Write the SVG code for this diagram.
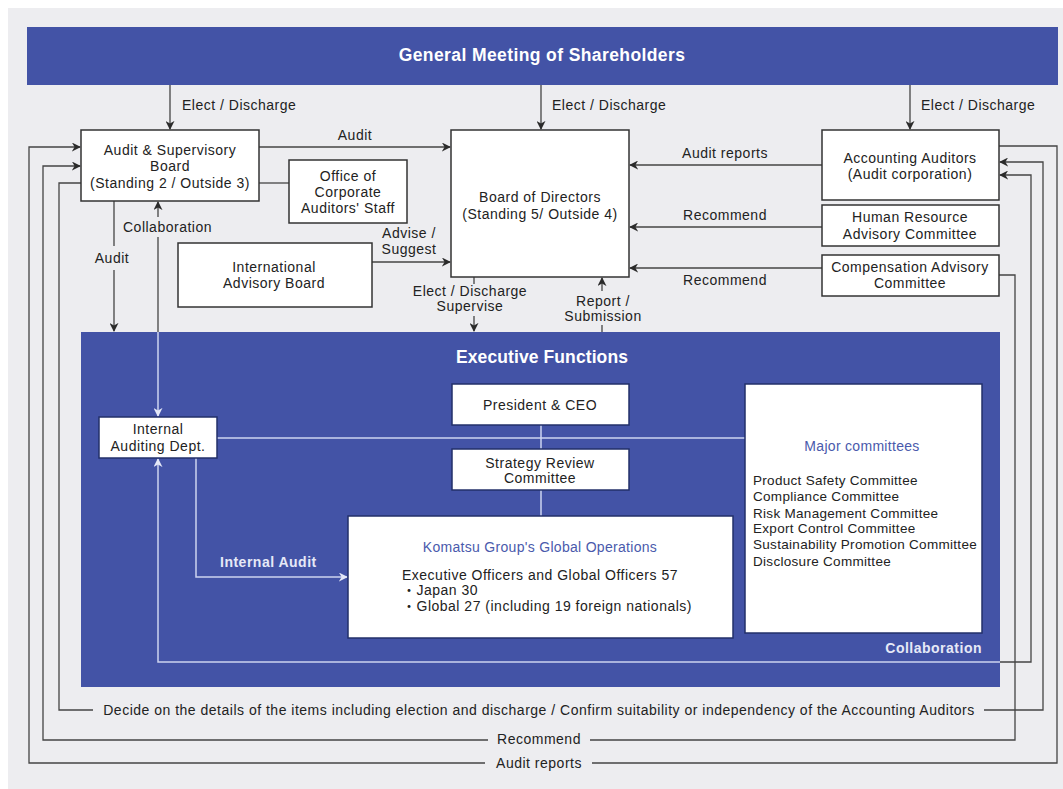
<svg xmlns="http://www.w3.org/2000/svg" width="1063" height="789" viewBox="0 0 1063 789">
  <defs>
    <marker id="arr" viewBox="0 0 10 10" refX="9" refY="5" markerWidth="9" markerHeight="9" markerUnits="userSpaceOnUse" orient="auto">
      <path d="M0,0 L10,5 L0,10 L3,5 z" fill="#2b2b2b"/>
    </marker>
    <marker id="arrL" viewBox="0 0 10 10" refX="9" refY="5" markerWidth="9" markerHeight="9" markerUnits="userSpaceOnUse" orient="auto">
      <path d="M0,0 L10,5 L0,10 L3,5 z" fill="#e4e8f7"/>
    </marker>
    <style>
      text { font-family: "Liberation Sans", Arial, "Noto Sans CJK JP", sans-serif; font-size: 14px; fill: #222; letter-spacing: 0.5px; }
      .c { text-anchor: middle; }
      .e { text-anchor: end; }
      .hd { font-weight: bold; font-size: 17.5px; fill: #fff; letter-spacing: 0.1px; }
      .wide { letter-spacing: 0.4px; }
      .wl { font-weight: bold; fill: #e6e9f7; }
      .bl { fill: #4a5aac; letter-spacing: 0.3px; }
      .lst { font-size: 13.5px; letter-spacing: 0.3px; }
      .box { fill: #fff; stroke: #333; stroke-width: 1.5; }
      .ibox { fill: #fff; stroke: #23306a; stroke-width: 1.5; }
      .ln { fill: none; stroke: #444; stroke-width: 1.3; }
      .lt { fill: none; stroke: #cdd4f0; stroke-width: 1.5; }
    </style>
  </defs>

  <!-- page background -->
  <rect x="8" y="8" width="1055" height="781" fill="#ededf0"/>

  <!-- shareholders banner -->
  <g id="shareholders">
    <rect x="27" y="27" width="1031" height="58" fill="#4353a6"/>
    <text class="hd wide c" x="542" y="61">General Meeting of Shareholders</text>
  </g>

  <!-- executive functions frame -->
  <g id="executive">
    <rect x="81" y="332" width="919" height="355" fill="#4353a6"/>
    <text class="hd c" x="542" y="363">Executive Functions</text>
  </g>

  <g id="connectors">
    <!-- elect / discharge from shareholders -->
    <line class="ln" x1="170" y1="85" x2="170" y2="129" marker-end="url(#arr)"/>
    <line class="ln" x1="541" y1="85" x2="541" y2="129" marker-end="url(#arr)"/>
    <line class="ln" x1="910" y1="85" x2="910" y2="129" marker-end="url(#arr)"/>
    <!-- audit to board -->
    <line class="ln" x1="259" y1="147" x2="450" y2="147" marker-end="url(#arr)"/>
    <!-- A&S to office staff -->
    <line class="ln" x1="259" y1="183" x2="289" y2="183"/>
    <!-- reports / recommendations to board -->
    <line class="ln" x1="822" y1="165" x2="630" y2="165" marker-end="url(#arr)"/>
    <line class="ln" x1="822" y1="227" x2="630" y2="227" marker-end="url(#arr)"/>
    <line class="ln" x1="822" y1="268" x2="630" y2="268" marker-end="url(#arr)"/>
    <!-- advise / suggest -->
    <line class="ln" x1="372" y1="262" x2="450" y2="262" marker-end="url(#arr)"/>
    <!-- elect / discharge, supervise -->
    <line class="ln" x1="474" y1="277" x2="474" y2="284"/>
    <line class="ln" x1="474" y1="316" x2="474" y2="331" marker-end="url(#arr)"/>
    <!-- report / submission -->
    <line class="ln" x1="602" y1="291" x2="602" y2="278" marker-end="url(#arr)"/>
    <line class="ln" x1="602" y1="325" x2="602" y2="332"/>
    <!-- audit down to executive -->
    <line class="ln" x1="114" y1="201" x2="114" y2="246"/>
    <line class="ln" x1="114" y1="270" x2="114" y2="331" marker-end="url(#arr)"/>
    <!-- collaboration A&S / internal audit -->
    <line class="ln" x1="158" y1="217" x2="158" y2="202" marker-end="url(#arr)"/>
    <line class="ln" x1="158" y1="237" x2="158" y2="332"/>
    <line class="lt" x1="158" y1="332" x2="158" y2="416" marker-end="url(#arrL)"/>
    <!-- internal audit -->
    <polyline class="lt" points="196,458 196,577 347,577" marker-end="url(#arrL)"/>
    <!-- internal auditing dept to major committees -->
    <line class="lt" x1="217" y1="438" x2="745" y2="438"/>
    <!-- president / strategy / operations -->
    <line class="lt" x1="541" y1="425" x2="541" y2="449"/>
    <line class="lt" x1="541" y1="490" x2="541" y2="516"/>
    <!-- collaboration internal audit / accounting auditors -->
    <polyline class="lt" points="1000,662 158,662 158,459" marker-end="url(#arrL)"/>
    <polyline class="ln" points="1000,662 1031,662 1031,175 1000,175" marker-end="url(#arr)"/>
    <!-- decide on details -->
    <polyline class="ln" points="81,183 59,183 59,710 93,710"/>
    <polyline class="ln" points="984,710 1043,710 1043,162 1000,162" marker-end="url(#arr)"/>
    <!-- recommend -->
    <polyline class="ln" points="999,275 1015,275 1015,740 590,740"/>
    <polyline class="ln" points="488,740 43,740 43,166 80,166" marker-end="url(#arr)"/>
    <!-- audit reports -->
    <polyline class="ln" points="999,146 1057,146 1057,763 592,763"/>
    <polyline class="ln" points="485,763 29,763 29,147 80,147" marker-end="url(#arr)"/>

    <!-- connector labels -->
    <text x="182" y="110">Elect / Discharge</text>
    <text x="552" y="110">Elect / Discharge</text>
    <text x="921" y="110">Elect / Discharge</text>
    <text class="c" x="355" y="140">Audit</text>
    <text class="c" x="725" y="158">Audit reports</text>
    <text class="c" x="725" y="220">Recommend</text>
    <text class="c" x="725" y="285">Recommend</text>
    <text class="c" x="409" y="238">Advise /</text>
    <text class="c" x="409" y="254">Suggest</text>
    <text class="c" x="470" y="296">Elect / Discharge</text>
    <text class="c" x="470" y="311">Supervise</text>
    <text class="c" x="603" y="306">Report /</text>
    <text class="c" x="603" y="321">Submission</text>
    <text class="c" x="112" y="263">Audit</text>
    <text x="123" y="232">Collaboration</text>
    <text class="wl" x="220" y="567">Internal Audit</text>
    <text class="wl e" x="982" y="653">Collaboration</text>
    <text class="c" x="539" y="715">Decide on the details of the items including election and discharge / Confirm suitability or independency of the Accounting Auditors</text>
    <text class="c" x="539" y="744">Recommend</text>
    <text class="c" x="539" y="768">Audit reports</text>
  </g>

  <g id="audit-supervisory-board">
    <rect class="box" x="81" y="130" width="178" height="71"/>
    <text class="c" x="170" y="155">Audit &amp; Supervisory</text>
    <text class="c" x="170" y="171">Board</text>
    <text class="c" x="170" y="188">(Standing 2 / Outside 3)</text>
  </g>

  <g id="office-staff">
    <rect class="box" x="289" y="160" width="118" height="63"/>
    <text class="c" x="348" y="181">Office of</text>
    <text class="c" x="348" y="197">Corporate</text>
    <text class="c" x="348" y="213">Auditors' Staff</text>
  </g>

  <g id="board-of-directors">
    <rect class="box" x="451" y="130" width="178" height="147"/>
    <text class="c" x="540" y="202">Board of Directors</text>
    <text class="c" x="540" y="219">(Standing 5/ Outside 4)</text>
  </g>

  <g id="international-advisory-board">
    <rect class="box" x="178" y="243" width="194" height="64"/>
    <text class="c" x="274" y="272">International</text>
    <text class="c" x="274" y="288">Advisory Board</text>
  </g>

  <g id="accounting-auditors">
    <rect class="box" x="822" y="130" width="177" height="70"/>
    <text class="c" x="910" y="163">Accounting Auditors</text>
    <text class="c" x="910" y="179">(Audit corporation)</text>
  </g>

  <g id="hr-committee">
    <rect class="box" x="822" y="205" width="177" height="41"/>
    <text class="c" x="910" y="222">Human Resource</text>
    <text class="c" x="910" y="239">Advisory Committee</text>
  </g>

  <g id="compensation-committee">
    <rect class="box" x="822" y="255" width="177" height="41"/>
    <text class="c" x="910" y="272">Compensation Advisory</text>
    <text class="c" x="910" y="288">Committee</text>
  </g>

  <g id="internal-auditing-dept">
    <rect class="ibox" x="99" y="417" width="118" height="41"/>
    <text class="c" x="158" y="434">Internal</text>
    <text class="c" x="158" y="451">Auditing Dept.</text>
  </g>

  <g id="president-ceo">
    <rect class="ibox" x="452" y="384" width="177" height="41"/>
    <text class="c" x="540" y="410">President &amp; CEO</text>
  </g>

  <g id="strategy-review">
    <rect class="ibox" x="452" y="449" width="177" height="41"/>
    <text class="c" x="540" y="468">Strategy Review</text>
    <text class="c" x="540" y="483">Committee</text>
  </g>

  <g id="global-operations">
    <rect class="ibox" x="348" y="516" width="385" height="122"/>
    <text class="c bl" x="540" y="552">Komatsu Group's Global Operations</text>
    <text x="402" y="580">Executive Officers and Global Officers 57</text>
    <text x="402" y="595">・Japan 30</text>
    <text x="402" y="611">・Global 27 (including 19 foreign nationals)</text>
  </g>

  <g id="major-committees">
    <rect class="ibox" x="745" y="384" width="237" height="249"/>
    <text class="c bl" x="862" y="451">Major committees</text>
    <text class="lst" x="753" y="485">Product Safety Committee</text>
    <text class="lst" x="753" y="501">Compliance Committee</text>
    <text class="lst" x="753" y="518">Risk Management Committee</text>
    <text class="lst" x="753" y="533">Export Control Committee</text>
    <text class="lst" x="753" y="549">Sustainability Promotion Committee</text>
    <text class="lst" x="753" y="566">Disclosure Committee</text>
  </g>
</svg>
